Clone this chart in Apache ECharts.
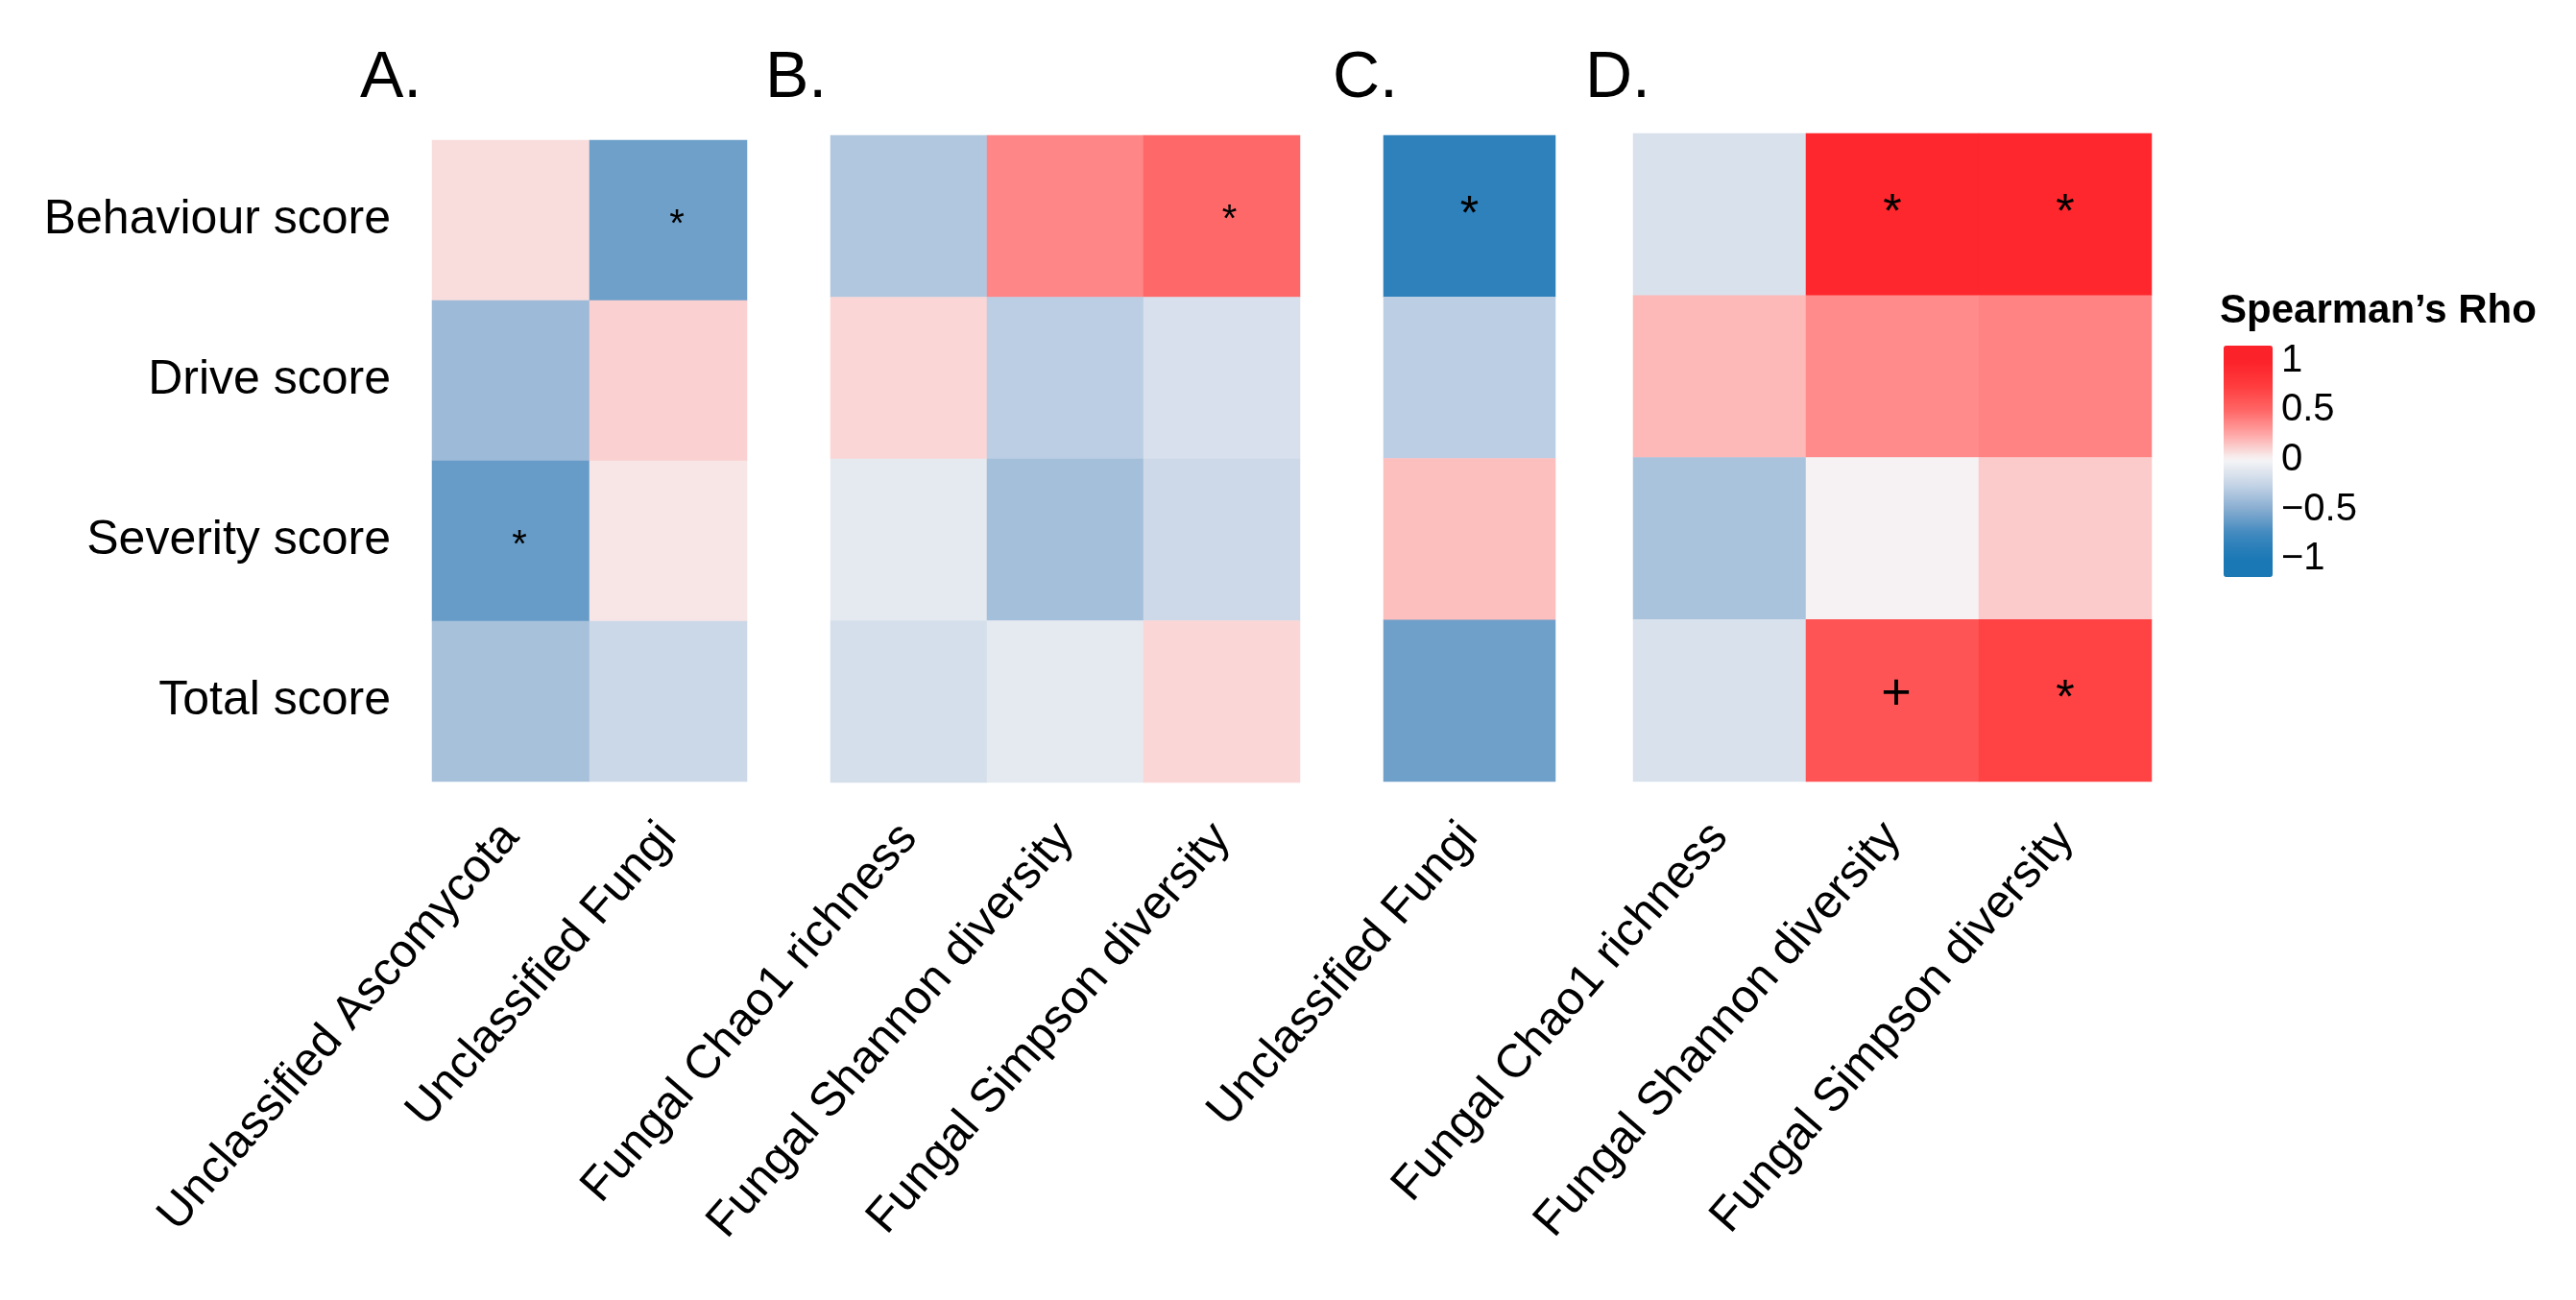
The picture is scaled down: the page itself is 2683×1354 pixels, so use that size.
<!DOCTYPE html>
<html lang="en">
<head>
<meta charset="UTF-8">
<title>Spearman correlations</title>
<style>
  html, body { margin: 0; padding: 0; background: #fff; }
  #chart { width: 2683px; height: 1354px; }
</style>
</head>
<body>
<div id="chart"></div>
<script src="https://cdn.jsdelivr.net/npm/echarts@6/dist/echarts.min.js"></script>
<script>
// rows shared by every panel
var rows = ['Behaviour score', 'Drive score', 'Severity score', 'Total score'];

// A.
var colsA = ['Unclassified Ascomycota', 'Unclassified Fungi'];
var rhoA = [[0.08, -0.58], [-0.41, 0.12], [-0.61, 0.05], [-0.37, -0.22]];
var sigA = [['', '*'], ['', ''], ['*', ''], ['', '']];

// B.
var colsB = ['Fungal Chao1 richness', 'Fungal Shannon diversity', 'Fungal Simpson diversity'];
var rhoB = [[-0.33, 0.38, 0.49], [0.10, -0.29, -0.16], [-0.09, -0.38, -0.21], [-0.17, -0.09, 0.10]];
var sigB = [['', '', '*'], ['', '', ''], ['', '', ''], ['', '', '']];

// C.
var colsC = ['Unclassified Fungi'];
var rhoC = [[-0.86], [-0.29], [0.18], [-0.58]];
var sigC = [['*'], [''], [''], ['']];

// D.
var colsD = ['Fungal Chao1 richness', 'Fungal Shannon diversity', 'Fungal Simpson diversity'];
var rhoD = [[-0.15, 0.95, 0.95], [0.20, 0.36, 0.39], [-0.36, 0.01, 0.14], [-0.15, 0.60, 0.70]];
var sigD = [['', '*', '*'], ['', '', ''], ['', '', ''], ['', '+', '*']];

// colour bar
var legendTicks = [-1, -0.5, 0, 0.5, 1];
var scaleMin = -1.18, scaleMax = 1.15;

var FONT = '"Liberation Sans", Arial, Helvetica, sans-serif';

// colour ramp anchors (value, colour)
var anchors = [
    [-1.00, [26, 120, 181]],
    [-0.75, [63, 136, 191]],
    [-0.50, [134, 172, 208]],
    [-0.25, [197, 212, 230]],
    [0.00, [246, 245, 246]],
    [0.25, [255, 168, 168]],
    [0.50, [255, 101, 101]],
    [0.75, [255, 59, 61]],
    [1.00, [252, 34, 41]]
];

function rampAt(v) {
    if (v <= anchors[0][0]) return anchors[0][1];
    for (var i = 1; i < anchors.length; i++) {
        if (v <= anchors[i][0]) {
            var a = anchors[i - 1], b = anchors[i];
            var t = (v - a[0]) / (b[0] - a[0]);
            return [0, 1, 2].map(function (k) { return Math.round(a[1][k] + (b[1][k] - a[1][k]) * t); });
        }
    }
    return anchors[anchors.length - 1][1];
}

var ramp = [];
var nSteps = 80;
for (var s = 0; s <= nSteps; s++) {
    var c = rampAt(scaleMin + (scaleMax - scaleMin) * s / nSteps);
    ramp.push('rgb(' + c.join(',') + ')');
}

var panels = [
    {title: 'A.', titleX: 375, cols: colsA, rho: rhoA, sig: sigA, rowLabels: true,
        grid: {left: 450, top: 146, width: 328, height: 668}, starSize: 40, starOffset: [9, 5]},
    {title: 'B.', titleX: 797, cols: colsB, rho: rhoB, sig: sigB, rowLabels: false,
        grid: {left: 865, top: 141, width: 489, height: 674}, starSize: 40, starOffset: [8, 5]},
    {title: 'C.', titleX: 1388, cols: colsC, rho: rhoC, sig: sigC, rowLabels: false,
        grid: {left: 1441, top: 141, width: 179, height: 673}, starSize: 50, starOffset: [0, 0]},
    {title: 'D.', titleX: 1651, cols: colsD, rho: rhoD, sig: sigD, rowLabels: false,
        grid: {left: 1701, top: 139, width: 540, height: 675}, starSize: 50, starOffset: [0, 0]}
];

var grids = [], xAxes = [], yAxes = [], series = [], graphics = [];

panels.forEach(function (p, gi) {
    grids.push(p.grid);
    xAxes.push({
        type: 'category', gridIndex: gi, data: p.cols,
        axisLine: {show: false}, axisTick: {show: false}, splitLine: {show: false},
        axisLabel: {rotate: 49, margin: 50, fontSize: 49, color: '#000', fontFamily: FONT, interval: 0}
    });
    yAxes.push({
        type: 'category', gridIndex: gi, data: rows, inverse: true,
        axisLine: {show: false}, axisTick: {show: false}, splitLine: {show: false},
        axisLabel: {show: p.rowLabels, margin: 43, fontSize: 50, color: '#000', fontFamily: FONT}
    });
    var data = [];
    p.rho.forEach(function (r, ri) {
        r.forEach(function (v, ci) {
            var mark = p.sig[ri][ci];
            var item = {value: [ci, ri, v], mark: mark};
            if (mark === '+') {
                item.label = {fontSize: 54, offset: [4, -6]};
            }
            data.push(item);
        });
    });
    series.push({
        type: 'heatmap', xAxisIndex: gi, yAxisIndex: gi, data: data,
        itemStyle: {borderWidth: 0},
        emphasis: {disabled: true},
        label: {
            show: true, color: '#000', fontFamily: FONT, fontSize: p.starSize, offset: p.starOffset,
            formatter: function (params) { return params.data.mark; }
        }
    });
    graphics.push({
        type: 'text', x: p.titleX, y: 82,
        style: {text: p.title, font: '68px ' + FONT, fill: '#000', verticalAlign: 'middle', align: 'left'}
    });
});

// colour bar axis (ticks + labels)
grids.push({left: 2316, top: 360, width: 51, height: 241});
xAxes.push({type: 'value', gridIndex: 4, show: false, min: 0, max: 1});
yAxes.push({
    type: 'value', gridIndex: 4, min: scaleMin, max: scaleMax, position: 'right', z: 10,
    axisLine: {show: false}, splitLine: {show: false},
    axisTick: {show: true, inside: true, length: 13, lineStyle: {color: '#fff', width: 3}, customValues: legendTicks},
    axisLabel: {
        customValues: legendTicks, margin: 9, fontSize: 40, color: '#000', fontFamily: FONT,
        formatter: function (v) { return String(v).replace('-', '\u2212'); }
    }
});
series.push({type: 'line', xAxisIndex: 4, yAxisIndex: 4, data: [], silent: true});

graphics.push({
    type: 'text', x: 2312, y: 324,
    style: {text: 'Spearman\u2019s Rho', font: 'bold 42px ' + FONT, fill: '#000', verticalAlign: 'middle', align: 'left'}
});

var chart = echarts.init(document.getElementById('chart'), null, {renderer: 'canvas'});
chart.setOption({
    animation: false,
    backgroundColor: '#fff',
    grid: grids,
    xAxis: xAxes,
    yAxis: yAxes,
    visualMap: {
        type: 'continuous', min: scaleMin, max: scaleMax, seriesIndex: [0, 1, 2, 3],
        orient: 'vertical', left: 2316, top: 360, itemWidth: 51, itemHeight: 241,
        calculable: false, padding: 0, text: null, hoverLink: false,
        inRange: {color: ramp}
    },
    graphic: graphics,
    series: series
});
window.addEventListener('resize', function () { chart.resize(); });
</script>
</body>
</html>
